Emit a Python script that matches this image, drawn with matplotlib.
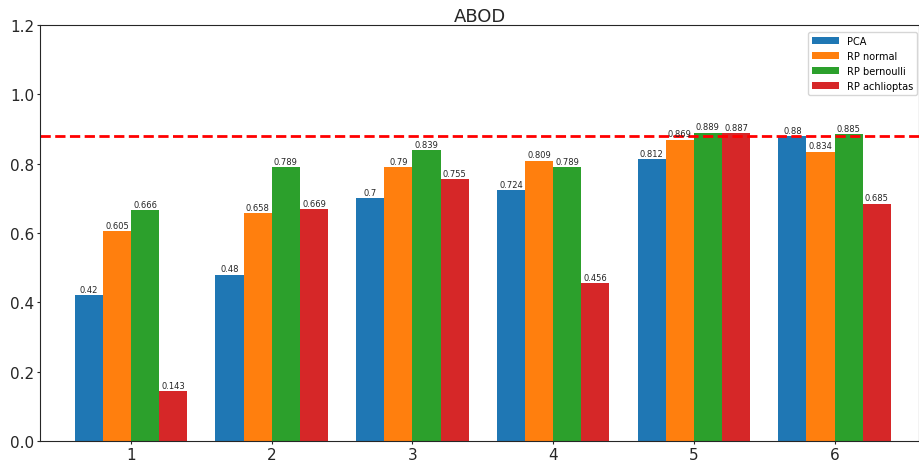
import numpy as np
import matplotlib
matplotlib.use('Agg')
import matplotlib.pyplot as plt

groups = [1, 2, 3, 4, 5, 6]
pca = [0.42, 0.48, 0.7, 0.724, 0.812, 0.88]
rp_normal = [0.605, 0.658, 0.79, 0.809, 0.869, 0.834]
rp_bernoulli = [0.666, 0.789, 0.839, 0.789, 0.889, 0.885]
rp_achlioptas = [0.143, 0.669, 0.755, 0.456, 0.887, 0.685]
names = ['PCA', 'RP normal', 'RP bernoulli', 'RP achlioptas']
baseline = 0.88

fig = plt.figure(figsize=(9.19, 4.64), dpi=100)
ax = fig.add_axes([0.0435, 0.0474, 0.9565, 0.8966])

x = np.array(groups)
w = 0.2
series = [pca, rp_normal, rp_bernoulli, rp_achlioptas]
for k, (vals, name) in enumerate(zip(series, names)):
    bars = ax.bar(x + (k - 1.5) * w, vals, w, label=name)
    for b, v in zip(bars, vals):
        ax.text(b.get_x() + b.get_width() / 2, v + 0.004, str(v),
                ha='center', va='bottom', fontsize=6, color='#262626')

ax.axhline(baseline, color='red', linestyle='--', linewidth=2)

ax.set_xlim(0.353, 6.6)
ax.set_ylim(0, 1.2)
ax.set_xticks(groups)
ax.set_yticks(np.arange(0, 1.21, 0.2))
ax.tick_params(labelsize=11, length=2, pad=2, colors='#262626')
for s in ax.spines.values():
    s.set_color('#262626')
ax.set_title('ABOD', fontsize=13, pad=2, color='#262626')
ax.legend(loc='upper right', fontsize=7, handlelength=2.8,
          bbox_to_anchor=(1.0, 0.987), borderaxespad=0.2)

fig.savefig('out.png', dpi=100)
